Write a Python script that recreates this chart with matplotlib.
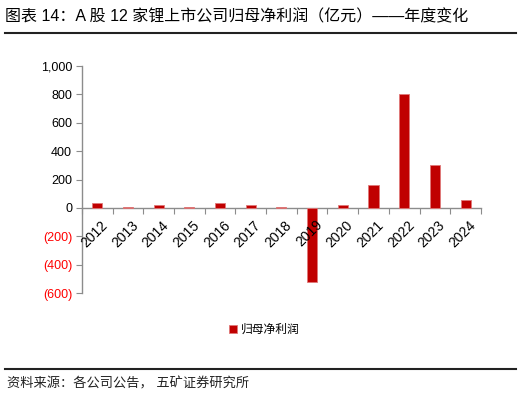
import numpy as np
import matplotlib.pyplot as plt
from matplotlib.lines import Line2D
from matplotlib.ticker import FuncFormatter

# A股12家锂上市公司归母净利润（亿元）
years  = ['2012', '2013', '2014', '2015', '2016', '2017', '2018',
          '2019', '2020', '2021', '2022', '2023', '2024']
profit = [35, 10, 20, 10, 33, 22, 10, -522, 24, 162, 806, 300, 56]
yticks = [-600, -400, -200, 0, 200, 400, 600, 800, 1000]

plt.rcParams['font.family'] = ['Liberation Sans', 'Noto Sans CJK SC', 'DejaVu Sans']

fig = plt.figure(figsize=(5.28, 3.96), dpi=100)
ax = fig.add_axes([0.155, 0.26, 0.756, 0.573])

x = np.arange(len(years))
ax.bar(x, profit, width=0.33, color='#C00000', edgecolor='#E07878', linewidth=0.6,
       label='归母净利润', zorder=3)

ax.set_xlim(-0.5, len(years) - 0.5)
ax.set_ylim(-600, 1000)
ax.set_yticks(yticks)
ax.yaxis.set_major_formatter(FuncFormatter(
    lambda v, p: f'({abs(v):,.0f})' if v < 0 else f'{v:,.0f}'))
for lab, v in zip(ax.get_yticklabels(), yticks):
    lab.set_color('#FF0000' if v < 0 else 'black')

# x axis sits at 0, ticks between categories
ax.spines['top'].set_visible(False)
ax.spines['right'].set_visible(False)
ax.spines['bottom'].set_position(('data', 0))
for s in ['left', 'bottom']:
    ax.spines[s].set_color('#8C8C8C')
    ax.spines[s].set_linewidth(1.0)
ax.set_xticks(np.arange(len(years) + 1) - 0.5)
ax.set_xticklabels([])
ax.tick_params(axis='x', length=4, color='#8C8C8C', direction='out')
ax.tick_params(axis='y', length=4, color='#8C8C8C', labelsize=9, pad=3)
for i, yr in enumerate(years):
    ax.text(i + 0.1, -70, yr, rotation=45, ha='right', va='top',
            rotation_mode='anchor', fontsize=10, transform=ax.transData)

fig.text(0.01, 0.957, '图表 14：A 股 12 家锂上市公司归母净利润（亿元）——年度变化',
         fontsize=11.5, va='center', ha='left')
fig.add_artist(Line2D([0.01, 0.978], [0.916, 0.916], color='#222222', lw=1.5))
fig.add_artist(Line2D([0.01, 0.978], [0.068, 0.068], color='#222222', lw=1.5))
fig.text(0.013, 0.030, '资料来源：各公司公告， 五矿证券研究所', fontsize=9.5,
         va='center', ha='left', color='#222222')

fig.legend(loc='center', bbox_to_anchor=(0.5, 0.167), frameon=False,
           handlelength=0.7, handleheight=0.7, handletextpad=0.3, fontsize=8.5)

fig.savefig('out.png', dpi=100)
